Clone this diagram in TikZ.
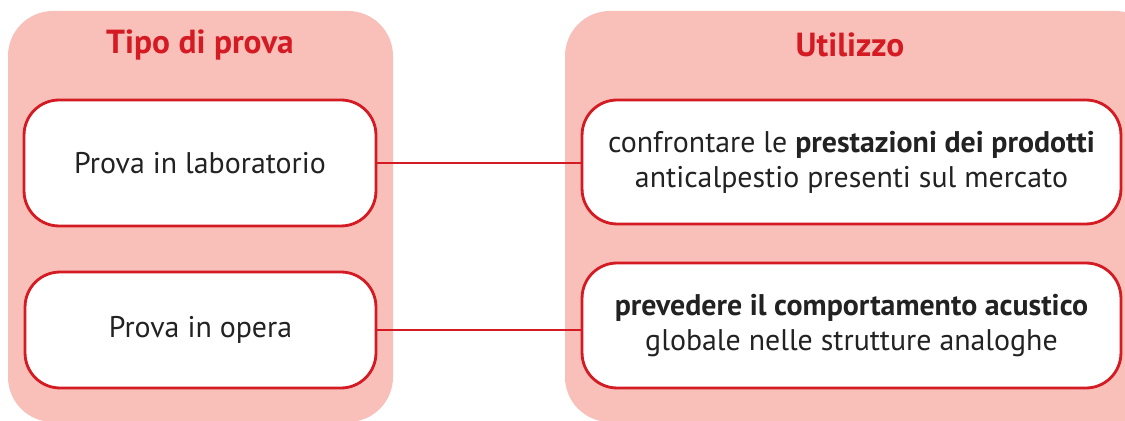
\documentclass[tikz,border=0pt]{standalone}
\usepackage{fontspec}
\setmainfont{PT Sans}
\usepackage{tikz}
\usetikzlibrary{positioning, calc}

\definecolor{rosa}{HTML}{F9C0BA}
\definecolor{rosso}{HTML}{D41A22}
\definecolor{testo}{HTML}{222222}

\begin{document}
\begin{tikzpicture}[
  x=0.02cm, y=-0.02cm,
  pannello/.style={fill=rosa, draw=none, rounded corners=0.9cm},
  titolo/.style={text=rosso, font=\fontsize{19}{22}\selectfont\bfseries},
  casella/.style={draw=rosso, line width=1.6pt, fill=white, rounded corners=0.7cm, align=center,
    text=testo, font=\fontsize{17}{20}\selectfont},
  linea/.style={draw=rosso, line width=1.6pt}
]
\clip (0,0) rectangle (1125,421);
\fill[white] (0,0) rectangle (1125,421);
% due pannelli di sfondo
\draw[pannello] (8,11) rectangle (393,422);
\draw[pannello] (565,11) rectangle (1160,422);
\node[titolo] (tipo) at (200,45) {Tipo di prova};
\node[titolo] (uso) at (850,45) {Utilizzo};
% caselle
\node[casella, minimum width=7.04cm, minimum height=2.52cm] (lab) at (200,163) {Prova in laboratorio};
\node[casella, minimum width=7.02cm, minimum height=2.32cm] (opera) at (200.5,330) {Prova in opera};
\node[casella, minimum width=10.78cm, minimum height=2.48cm] (prest) at (851.5,162)
  {confrontare le \textbf{prestazioni dei prodotti}\\anticalpestio presenti sul mercato};
\node[casella, minimum width=10.78cm, minimum height=2.5cm] (acust) at (851.5,325.5)
  {\textbf{prevedere il comportamento acustico}\\globale nelle strutture analoghe};
% collegamenti
\draw[linea] (lab.east) -- (lab.east -| prest.west);
\draw[linea] (opera.east) -- (opera.east -| acust.west);
\end{tikzpicture}
\end{document}
